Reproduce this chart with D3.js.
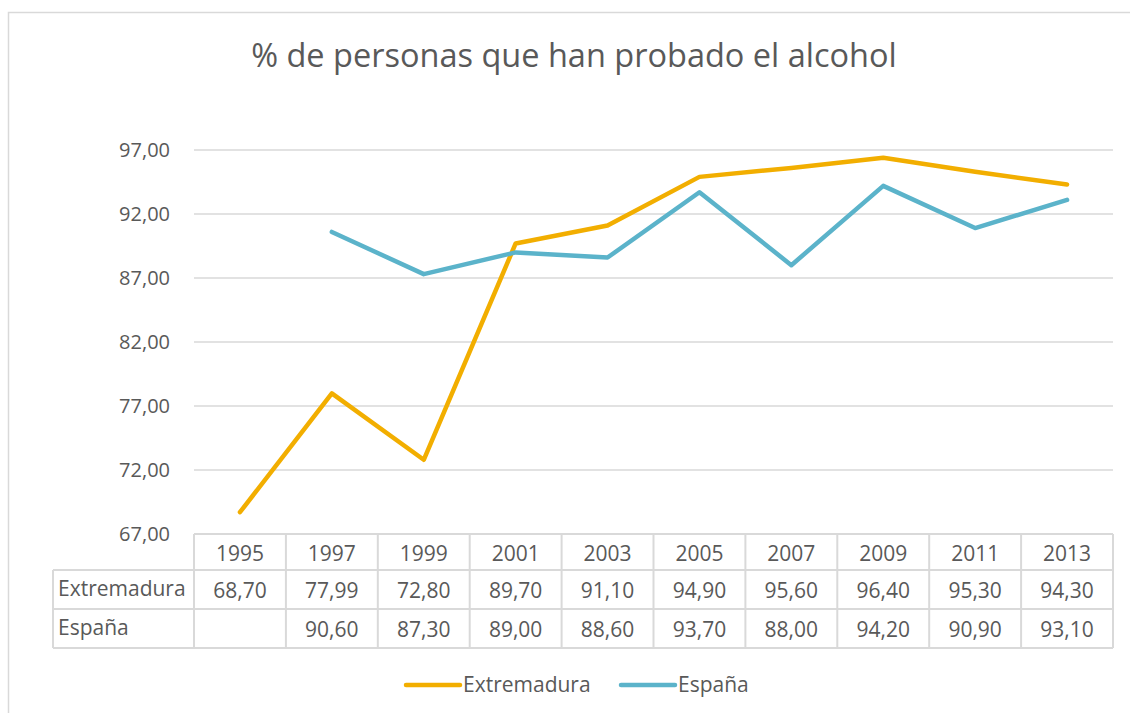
<!DOCTYPE html>
<html>
<head>
<meta charset="utf-8">
<script src="https://cdn.jsdelivr.net/npm/d3@7"></script>
<style>
  body { margin: 0; background: #fff; }
  svg { display: block; }
  text { font-family: "Open Sans", sans-serif; fill: #595959; }
</style>
</head>
<body>
<svg id="chart" width="1130" height="713"></svg>
<script>
const title = "% de personas que han probado el alcohol";
const years = ["1995", "1997", "1999", "2001", "2003", "2005", "2007", "2009", "2011", "2013"];
const extremadura = [68.70, 77.99, 72.80, 89.70, 91.10, 94.90, 95.60, 96.40, 95.30, 94.30];
const espana = [null, 90.60, 87.30, 89.00, 88.60, 93.70, 88.00, 94.20, 90.90, 93.10];
const yTicks = [67, 72, 77, 82, 87, 92, 97];
const seriesNames = ["Extremadura", "España"];
const seriesColors = ["#F2AE00", "#5BB3CA"];

const locale = d3.formatLocale({decimal: ",", thousands: ".", grouping: [3], currency: ["", "€"]});
const fmt = locale.format(".2f");

const svg = d3.select("#chart");
const gridColor = "#d9d9d9";

// outer border
svg.append("rect").attr("x", 8.5).attr("y", 12.5).attr("width", 1140).attr("height", 720)
  .attr("fill", "none").attr("stroke", gridColor).attr("stroke-width", 1.5);

// title
svg.append("text").attr("x", 574).attr("y", 67).attr("text-anchor", "middle")
  .style("font-size", "32.5px").text(title);

const x = d3.scaleBand().domain(years).range([194, 1113]).padding(0);
const y = d3.scaleLinear().domain([67, 97]).range([534, 150]);

// gridlines
svg.append("g").selectAll("line").data(yTicks).join("line")
  .attr("x1", 194).attr("x2", 1113)
  .attr("y1", d => y(d)).attr("y2", d => y(d))
  .attr("stroke", gridColor).attr("stroke-width", 1.5);

// y axis labels
const yAxis = d3.axisLeft(y).tickValues(yTicks).tickFormat(fmt).tickSize(0).tickPadding(24);
const ga = svg.append("g").attr("transform", "translate(194,0)").call(yAxis);
ga.select(".domain").remove();
ga.selectAll("text").style("font-size", "20px").style("font-family", "\"Open Sans\", sans-serif").attr("fill", "#595959");

// data table
const rowH = [534, 570, 609, 648];
const labelLeft = 53;
const fs = "21px";
const tg = svg.append("g");
tg.append("line").attr("x1", 194).attr("x2", 1113).attr("y1", rowH[0]).attr("y2", rowH[0]).attr("stroke", gridColor).attr("stroke-width", 2);
[rowH[1], rowH[2], rowH[3]].forEach(yy => {
  tg.append("line").attr("x1", labelLeft).attr("x2", 1113).attr("y1", yy).attr("y2", yy).attr("stroke", gridColor).attr("stroke-width", 2);
});
const vx = years.map(d => x(d)).concat([x(years[years.length - 1]) + x.bandwidth()]);
tg.selectAll("line.v").data(vx).join("line").attr("class", "v")
  .attr("x1", d => d).attr("x2", d => d).attr("y1", rowH[0]).attr("y2", rowH[3])
  .attr("stroke", gridColor).attr("stroke-width", 2);
tg.append("line").attr("x1", labelLeft).attr("x2", labelLeft).attr("y1", rowH[1]).attr("y2", rowH[3]).attr("stroke", gridColor).attr("stroke-width", 2);

tg.selectAll("text.h").data(years).join("text").attr("class", "h")
  .attr("x", d => x(d) + x.bandwidth() / 2).attr("y", 561).attr("text-anchor", "middle")
  .style("font-size", fs).text(d => d);
const rowsData = [extremadura, espana];
seriesNames.forEach((name, i) => {
  const ty = i === 0 ? 598 : 637;
  tg.append("text").attr("x", 58).attr("y", ty - 2).style("font-size", fs).text(name);
  tg.selectAll("text.r" + i).data(years).join("text").attr("class", "r" + i)
    .attr("x", d => x(d) + x.bandwidth() / 2).attr("y", ty).attr("text-anchor", "middle")
    .style("font-size", fs)
    .text((d, j) => rowsData[i][j] == null ? "" : fmt(rowsData[i][j]));
});

// lines
const line = d3.line().defined(d => d.v != null)
  .x(d => x(d.year) + x.bandwidth() / 2).y(d => y(d.v));
rowsData.forEach((vals, i) => {
  const pts = years.map((yr, j) => ({year: yr, v: vals[j]}));
  svg.append("path").datum(pts).attr("d", line).attr("fill", "none")
    .attr("stroke", seriesColors[i]).attr("stroke-width", 4.5)
    .attr("stroke-linecap", "round").attr("stroke-linejoin", "round");
});

// legend
const legendX = [406, 621];
seriesNames.forEach((name, i) => {
  const lg = svg.append("g");
  lg.append("line").attr("x1", legendX[i]).attr("x2", legendX[i] + 54).attr("y1", 685).attr("y2", 685)
    .attr("stroke", seriesColors[i]).attr("stroke-width", 4.5).attr("stroke-linecap", "round");
  lg.append("text").attr("x", legendX[i] + 57).attr("y", 692).style("font-size", fs).text(name);
});
</script>
</body>
</html>
